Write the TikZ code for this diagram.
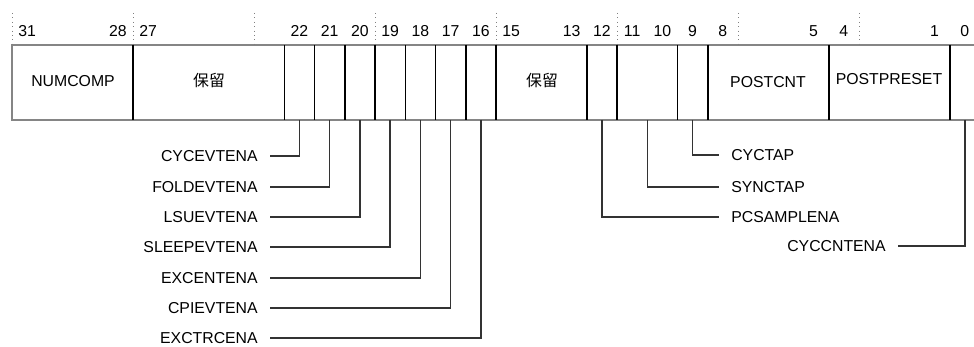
\documentclass[tikz,border=0pt]{standalone}
\usepackage{fontspec}
\setmainfont{Liberation Sans}
\newfontfamily\cjk{Noto Sans CJK SC}
\usetikzlibrary{positioning}
\definecolor{framegray}{HTML}{858585}
\definecolor{wiregray}{HTML}{333333}

\begin{document}
\begin{tikzpicture}[x=0.02cm, y=-0.02cm,
    every node/.style={font=\fontsize{9}{11}\selectfont, inner sep=0pt},
    bitnum/.style={anchor=center},
    field/.style={anchor=center},
    flag/.style={inner xsep=6.8pt},
    frame/.style={framegray, line width=1.7pt},
    divider/.style={black, line width=0.85pt},
    tick/.style={gray, dotted, line width=0.5pt},
    wire/.style={wiregray, line width=0.8pt}]
    \useasboundingbox (0,0) rectangle (974,347);

    % register frame, open on the right
    \draw [frame] (974,45) -- (12,45) -- (12,120) -- (974,120);
    \foreach \k in {32,28,...,4}
        \draw [tick] ({12+(32-\k)*30.25},13) -- ++(0,31);
    \foreach \k in {28,23,22,21,20,19,18,17,16,13,12,10,9,5,1}
        \draw [divider] ({12+(32-\k)*30.25},45) -- ({12+(32-\k)*30.25},120);

    % bit numbers
    \foreach \b in {31,28,27,22,21,20,19,18,17,16,15,13,12,11,10,9,8,5,4,1,0}
        \node (n\b) [bitnum] at ({12+(31.5-\b)*30.25},31) {\b};

    % field names
    \node (numcomp) [field] at (73,81) {NUMCOMP};
    \node (rsvdhi) [field] at (209,81) {\cjk 保留};
    \node (rsvdlo) [field] at (542,81) {\cjk 保留};
    \node (postcnt) [field] at (768,82) {POSTCNT};
    \node (postpreset) [field] at (889,79) {POSTPRESET};

    % tap points under the register
    \foreach \b in {22,21,20,19,18,17,16,12,9,0}
        \coordinate (b\b) at ({12+(31.5-\b)*30.25},120);
    \coordinate (b11) at ({12+21*30.25},120);

    \node (cycevtena) [flag, anchor=east] at (270,156) {CYCEVTENA};
    \node (foldevtena) [flag, anchor=east] at (270,187) {FOLDEVTENA};
    \node (lsuevtena) [flag, anchor=east] at (270,217) {LSUEVTENA};
    \node (sleepevtena) [flag, anchor=east] at (270,247) {SLEEPEVTENA};
    \node (excentena) [flag, anchor=east] at (270,278) {EXCENTENA};
    \node (cpievtena) [flag, anchor=east] at (270,308) {CPIEVTENA};
    \node (exctrcena) [flag, anchor=east] at (270,338) {EXCTRCENA};
    \node (cyctap) [flag, anchor=west] at (719,155) {CYCTAP};
    \node (synctap) [flag, anchor=west] at (719,187) {SYNCTAP};
    \node (pcsamplena) [flag, anchor=west] at (719,217) {PCSAMPLENA};
    \node (cyccntena) [flag, anchor=east] at (898,246) {CYCCNTENA};

    \draw [wire] (b22) |- (cycevtena);
    \draw [wire] (b21) |- (foldevtena);
    \draw [wire] (b20) |- (lsuevtena);
    \draw [wire] (b19) |- (sleepevtena);
    \draw [wire] (b18) |- (excentena);
    \draw [wire] (b17) |- (cpievtena);
    \draw [wire] (b16) |- (exctrcena);
    \draw [wire] (b9) |- (cyctap);
    \draw [wire] (b11) |- (synctap);
    \draw [wire] (b12) |- (pcsamplena);
    \draw [wire] (b0) |- (cyccntena);
\end{tikzpicture}
\end{document}
